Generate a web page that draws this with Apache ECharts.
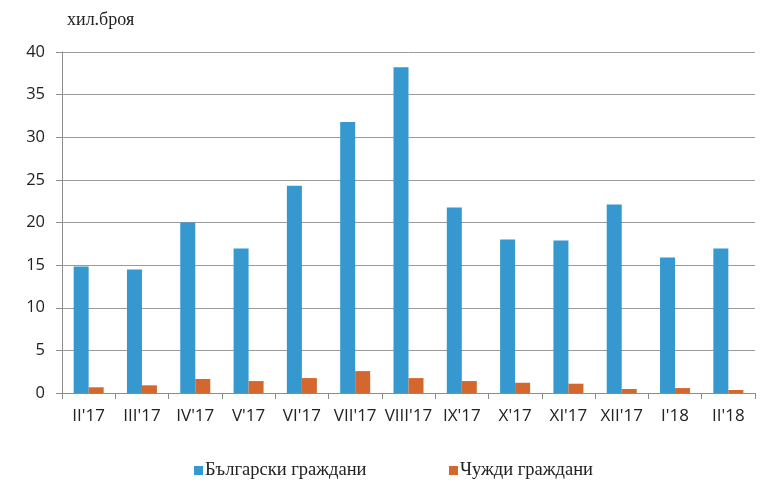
<!DOCTYPE html>
<html>
<head>
<meta charset="utf-8">
<script src="https://cdn.jsdelivr.net/npm/echarts@6/dist/echarts.min.js"></script>
<style>html,body{margin:0;padding:0;background:#fff}#c{width:768px;height:494px}</style>
</head>
<body>
<div id="c"></div>
<script>
const categories = ["II'17","III'17","IV'17","V'17","VI'17","VII'17","VIII'17","IX'17","X'17","XI'17","XII'17","I'18","II'18"];
const bulgarian = [14.85,14.5,20.0,16.95,24.3,31.8,38.2,21.75,18.0,17.9,22.1,15.9,16.95];
const foreign = [0.67,0.9,1.64,1.4,1.75,2.57,1.75,1.4,1.2,1.09,0.47,0.58,0.35];
const yTicks = {min:0, max:40, interval:5};
const unitLabel = 'хил.броя';
const seriesNames = ['Български граждани','Чужди граждани'];

const chart = echarts.init(document.getElementById('c'), null, {renderer:'canvas'});
chart.setOption({
  animation:false,
  backgroundColor:'#fff',
  title:{text:unitLabel,left:62,top:6,textStyle:{fontFamily:'Liberation Serif',fontSize:18,fontWeight:'normal',color:'#222'}},
  legend:[
    {data:[seriesNames[0]],left:189,top:456,icon:'rect',itemWidth:9,itemHeight:9,itemGap:4,
     textStyle:{fontFamily:'Liberation Serif',fontSize:18.5,color:'#222',padding:[0,0,0,-3]}},
    {data:[seriesNames[1]],left:444,top:456,icon:'rect',itemWidth:9,itemHeight:9,itemGap:4,
     textStyle:{fontFamily:'Liberation Serif',fontSize:18.5,color:'#222',padding:[0,0,0,-3]}}
  ],
  grid:{left:62,right:13,top:52,bottom:101},
  xAxis:{type:'category',data:categories,
    axisLine:{lineStyle:{color:'#8c8c8c',width:1}},
    axisTick:{show:true,alignWithLabel:false,length:6,lineStyle:{color:'#8c8c8c'}},
    axisLabel:{fontFamily:'Open Sans',fontSize:17,color:'#222',margin:15,interval:0}},
  yAxis:{type:'value',min:yTicks.min,max:yTicks.max,interval:yTicks.interval,
    axisLine:{show:true,lineStyle:{color:'#8c8c8c',width:1}},
    axisTick:{show:true,length:6,lineStyle:{color:'#8c8c8c'}},
    splitLine:{lineStyle:{color:'#9a9a9a',width:1}},
    axisLabel:{fontFamily:'Open Sans',fontSize:16.5,color:'#222',margin:17}},
  series:[
    {name:seriesNames[0],type:'bar',data:bulgarian,barWidth:15,barGap:'0%',itemStyle:{color:'#3598CE'}},
    {name:seriesNames[1],type:'bar',data:foreign,barWidth:15,barGap:'0%',itemStyle:{color:'#D4672E'}}
  ]
});
</script>
</body>
</html>
